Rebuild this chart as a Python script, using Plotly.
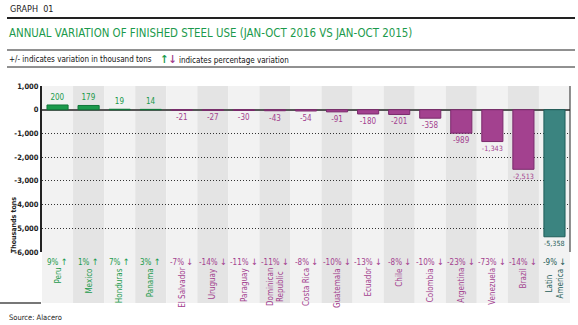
import plotly.graph_objects as go

countries = ["Peru", "Mexico", "Honduras", "Panama", "El Salvador", "Uruguay", "Paraguay",
             "Dominican<br>Republic", "Costa Rica", "Guatemala", "Ecuador", "Chile", "Colombia",
             "Argentina", "Venezuela", "Brazil", "Latin<br>America"]
variation = [200, 179, 19, 14, -21, -27, -30, -43, -54, -91, -180, -201, -358, -989, -1343, -2513, -5358]
pct_change = [9, 1, 7, 3, -7, -14, -11, -11, -8, -10, -13, -8, -10, -23, -73, -14, -9]
y_ticks = [1000, 0, -1000, -2000, -3000, -4000, -5000, -6000]

GREEN, GREEN_D = "#1b9a4c", "#11773a"
PURPLE, PURPLE_D = "#a3418f", "#7a2a6c"
TEAL, TEAL_D = "#3b8480", "#1e5d59"
FONT = "Liberation Sans Narrow, DejaVu Sans Condensed, sans-serif"

W, H = 578, 325
ML, MR, MT, MB = 42, 8, 86, 73
PH = H - MT - MB
PW = W - ML - MR


def py(p):
    """pixel row -> paper y"""
    return (H - MB - p) / PH


def px(p):
    """pixel column -> paper x"""
    return (p - ML) / PW


n = len(countries)
fill, edge, txt = [], [], []
for i, v in enumerate(variation):
    if i == n - 1:
        fill.append(TEAL); edge.append(TEAL_D); txt.append(TEAL_D)
    elif v >= 0:
        fill.append(GREEN); edge.append(GREEN_D); txt.append(GREEN)
    else:
        fill.append(PURPLE); edge.append(PURPLE_D); txt.append(PURPLE)

xs = list(range(n))
fig = go.Figure(go.Bar(
    x=xs, y=variation, width=0.68,
    marker=dict(color=fill, line=dict(color=edge, width=1)),
    text=[f"{v:,}" for v in variation], textposition="outside",
    textfont=dict(family=FONT, size=8, color=txt), cliponaxis=False,
))

shapes = []
# alternating column bands, running down behind the category labels
for i in range(n):
    shapes.append(dict(type="rect", xref="x", yref="paper", x0=i - 0.5, x1=i + 0.5,
                       y0=py(303), y1=1.0, layer="below", line=dict(width=0),
                       fillcolor="#f2f2f2" if i % 2 == 0 else "#e4e4e4"))
# right border of the plot
shapes.append(dict(type="line", xref="paper", yref="paper", x0=1, x1=1, y0=0, y1=1,
                   line=dict(color="#222", width=1)))
# header rules
shapes.append(dict(type="line", xref="paper", yref="paper", x0=px(7), x1=px(575),
                   y0=py(18), y1=py(18), line=dict(color="#222", width=2)))
for r in (50, 67):
    shapes.append(dict(type="line", xref="paper", yref="paper", x0=px(7), x1=px(575),
                       y0=py(r), y1=py(r), line=dict(color="#222", width=1)))
# short rule under the axis
shapes.append(dict(type="line", xref="paper", yref="paper", x0=px(0), x1=px(41),
                   y0=py(303), y1=py(303), line=dict(color="#777", width=2)))

ann = []
for i in range(n):
    c = txt[i]
    arrow = "↑" if pct_change[i] >= 0 else "↓"
    ann.append(dict(x=i, y=py(255), xref="x", yref="paper", yanchor="top", showarrow=False,
                    text=f"{pct_change[i]}% <span style='font-size:9px'>{arrow}</span>",
                    font=dict(family=FONT, size=8, color=c)))
    ann.append(dict(x=i, y=py(266), xref="x", yref="paper", yanchor="top", xanchor="center",
                    showarrow=False, textangle=-90, text=countries[i],
                    font=dict(family=FONT, size=8, color=c)))

ann += [
    dict(x=px(8), y=py(9), xref="paper", yref="paper", xanchor="left", yanchor="middle",
         showarrow=False, text="GRAPH  01", font=dict(family=FONT, size=9, color="#222")),
    dict(x=px(7), y=py(33), xref="paper", yref="paper", xanchor="left", yanchor="middle",
         showarrow=False, text="ANNUAL VARIATION OF FINISHED STEEL USE (JAN-OCT 2016 VS JAN-OCT 2015)",
         font=dict(family=FONT, size=11.4, color=GREEN)),
    dict(x=px(7), y=py(59), xref="paper", yref="paper", xanchor="left", yanchor="middle",
         showarrow=False, text="+/- indicates variation in thousand tons",
         font=dict(family=FONT, size=8, color="#111")),
    dict(x=px(158), y=py(59), xref="paper", yref="paper", xanchor="left", yanchor="middle",
         showarrow=False,
         text=(f"<b><span style='color:{GREEN};font-size:11px'>↑</span>"
               f"<span style='color:{PURPLE};font-size:11px'>↓</span></b> indicates percentage variation"),
         font=dict(family=FONT, size=8, color="#111")),
    dict(x=px(14), y=py(225), xref="paper", yref="paper", xanchor="center", yanchor="middle",
         showarrow=False, textangle=-90, text="<b>Thousands tons</b>",
         font=dict(family=FONT, size=7, color="#222")),
    dict(x=px(7), y=py(317), xref="paper", yref="paper", xanchor="left", yanchor="middle",
         showarrow=False, text="Source: Alacero", font=dict(family=FONT, size=7.5, color="#222")),
]

fig.update_layout(
    width=W, height=H, margin=dict(l=ML, r=MR, t=MT, b=MB),
    paper_bgcolor="white", plot_bgcolor="rgba(0,0,0,0)",
    showlegend=False, shapes=shapes, annotations=ann,
    xaxis=dict(range=[-0.5, n - 0.5], showticklabels=False, showgrid=False,
               zeroline=False, fixedrange=True),
    yaxis=dict(range=[-6000, 1000], tickvals=y_ticks,
               ticktext=[f"<b>{v:,}</b>" for v in y_ticks],
               tickfont=dict(family=FONT, size=7.5, color="#222"),
               showgrid=True, gridcolor="#333", griddash="1px,2px", gridwidth=1,
               zeroline=True, zerolinecolor="#555", zerolinewidth=2,
               showline=True, linecolor="#222", linewidth=2, ticks="", ticklen=0),
)

fig.write_html("out.html")
